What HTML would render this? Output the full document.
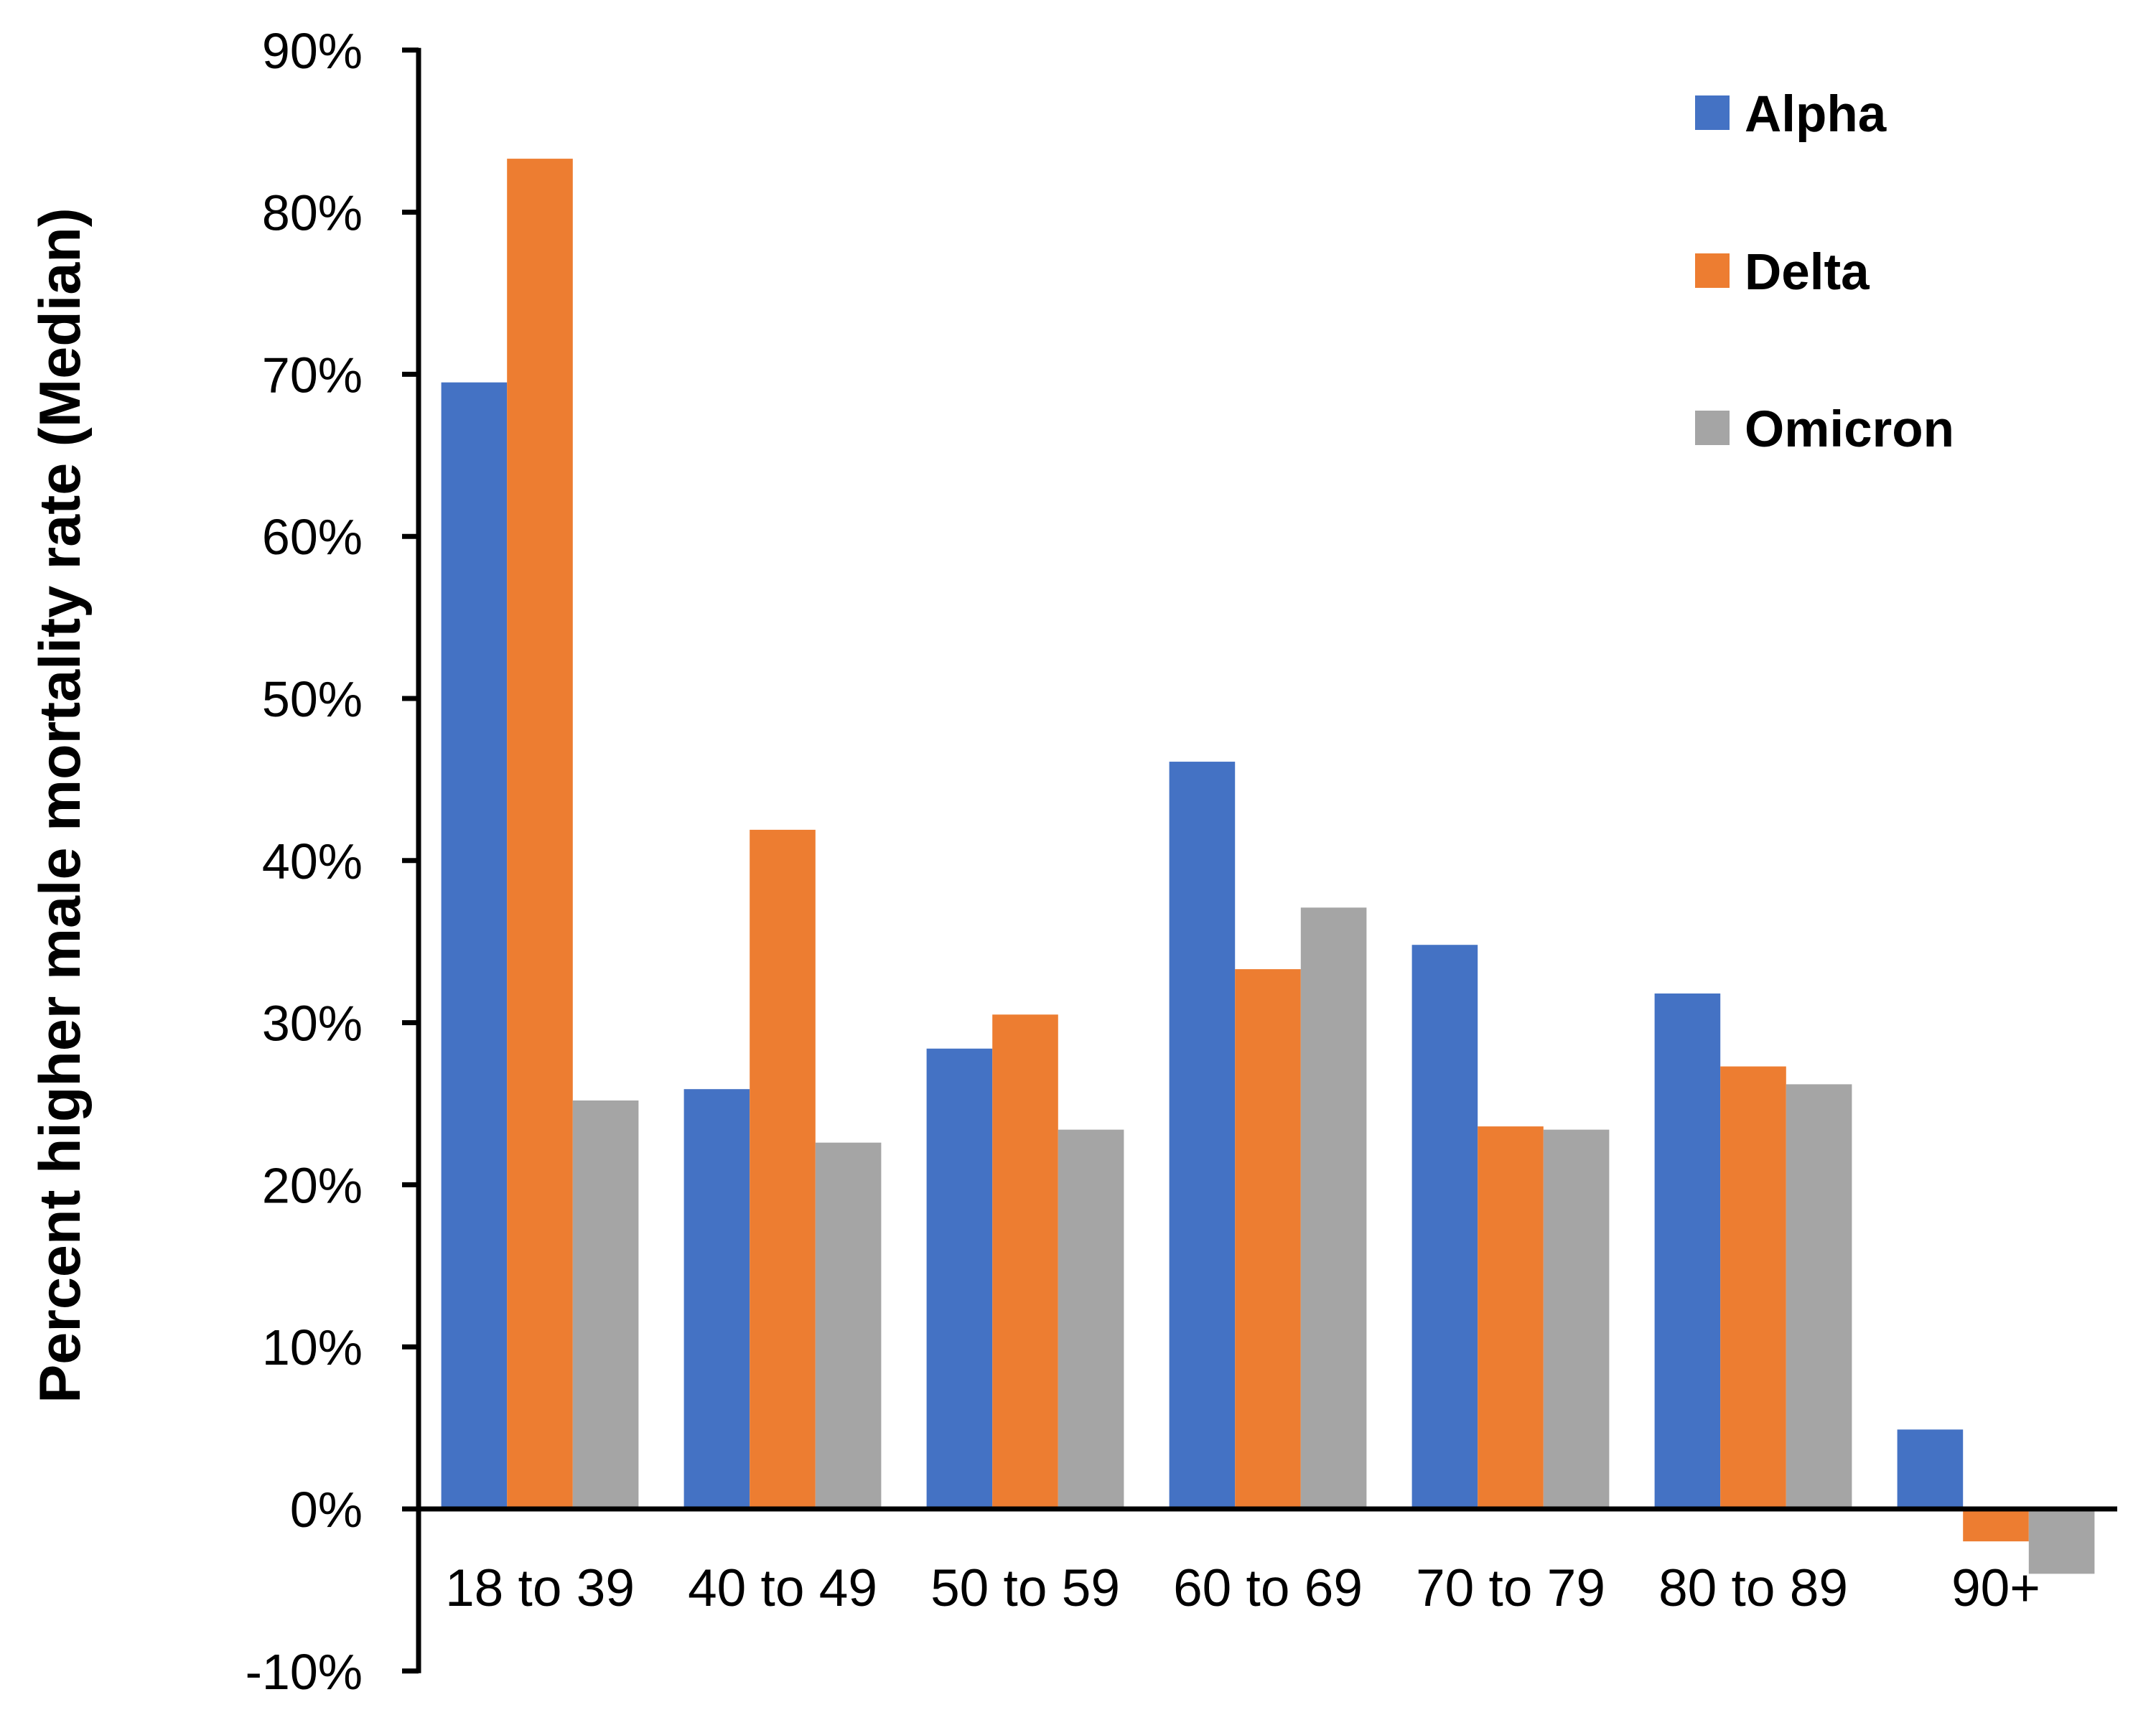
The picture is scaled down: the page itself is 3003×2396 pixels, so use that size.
<!DOCTYPE html>
<html><head><meta charset="utf-8"><style>
html,body{margin:0;padding:0;background:#fff;}
svg{display:block;font-family:"Liberation Sans",sans-serif;}
</style></head><body>
<svg id="chart" width="3003" height="2396" viewBox="0 0 3003 2396" xmlns="http://www.w3.org/2000/svg">
<g id="bars"></g>
<g id="axes"></g>
<text x="0" y="0" transform="translate(111,1122) rotate(-90)" text-anchor="middle" font-size="81" font-weight="bold" fill="#000">Percent higher male mortality rate (Median)</text>
<g id="legend"></g>
</svg>
<script>
const categories = ["18 to 39","40 to 49","50 to 59","60 to 69","70 to 79","80 to 89","90+"];
const seriesNames = ["Alpha","Delta","Omicron"];
const alphaValues = [69.5,25.9,28.4,46.1,34.8,31.8,4.9];
const deltaValues = [83.3,41.9,30.5,33.3,23.6,27.3,-2.0];
const omicronValues = [25.2,22.6,23.4,37.1,23.4,26.2,-4.0];
const yTicks = [-10,0,10,20,30,40,50,60,70,80,90];
const yTickLabels = ["-10%","0%","10%","20%","30%","40%","50%","60%","70%","80%","90%"];

const colors = ["#4472C4","#ED7D31","#A5A5A5"];
const NS = "http://www.w3.org/2000/svg";
const plotL = 583, plotR = 2949, y0px = 2102, pxPer1 = 22.58;
const yScale = v => y0px - v * pxPer1;
const groupW = (plotR - plotL) / categories.length;
const barW = groupW * 0.271;
const xGroup = i => plotL + groupW * i + groupW / 2;

function mk(tag, attrs){const e=document.createElementNS(NS,tag);for(const k in attrs)e.setAttribute(k,attrs[k]);return e;}

const bars = document.getElementById('bars');
const allSeries = [alphaValues, deltaValues, omicronValues];
allSeries.forEach((vals, s) => {
  vals.forEach((v, i) => {
    const x = xGroup(i) + (s - 1.5) * barW;
    const yTop = Math.min(yScale(v), yScale(0));
    const h = Math.abs(yScale(v) - yScale(0));
    const r = mk('rect', {x: x, y: yTop, width: barW, height: h, fill: colors[s]});
    
    
    bars.appendChild(r);
  });
});

const axes = document.getElementById('axes');
const yAxis = mk('line', {x1: plotL, x2: plotL, y1: yScale(90) - 3, y2: yScale(-10) + 3, stroke: '#000', 'stroke-width': 7});


axes.appendChild(yAxis);
const xAxis = mk('line', {x1: plotL - 23, x2: plotR, y1: yScale(0), y2: yScale(0), stroke: '#000', 'stroke-width': 7});


axes.appendChild(xAxis);
yTicks.forEach((t, i) => {
  const tk = mk('line', {x1: plotL - 23, x2: plotL, y1: yScale(t), y2: yScale(t), stroke: '#000', 'stroke-width': 7});
  
  
  axes.appendChild(tk);
  const lb = mk('text', {x: 505, y: yScale(t) + 25, 'text-anchor': 'end', 'font-size': 70, fill: '#000'});
  lb.textContent = yTickLabels[i];
  
  
  axes.appendChild(lb);
});
categories.forEach((c, i) => {
  const lb = mk('text', {x: xGroup(i), y: 2237, 'text-anchor': 'middle', 'font-size': 73, fill: '#000'});
  lb.textContent = c;
  
  
  axes.appendChild(lb);
});

const legend = document.getElementById('legend');
const legendY = [157, 377, 596];
seriesNames.forEach((n, s) => {
  const sw = mk('rect', {x: 2361, y: legendY[s] - 24, width: 48, height: 48, fill: colors[s]});
  
  
  legend.appendChild(sw);
  const t = mk('text', {x: 2430, y: legendY[s] + 26, 'font-size': 71, 'font-weight': 'bold', fill: '#000'});
  t.textContent = n;
  
  
  legend.appendChild(t);
});
</script>
</body></html>
